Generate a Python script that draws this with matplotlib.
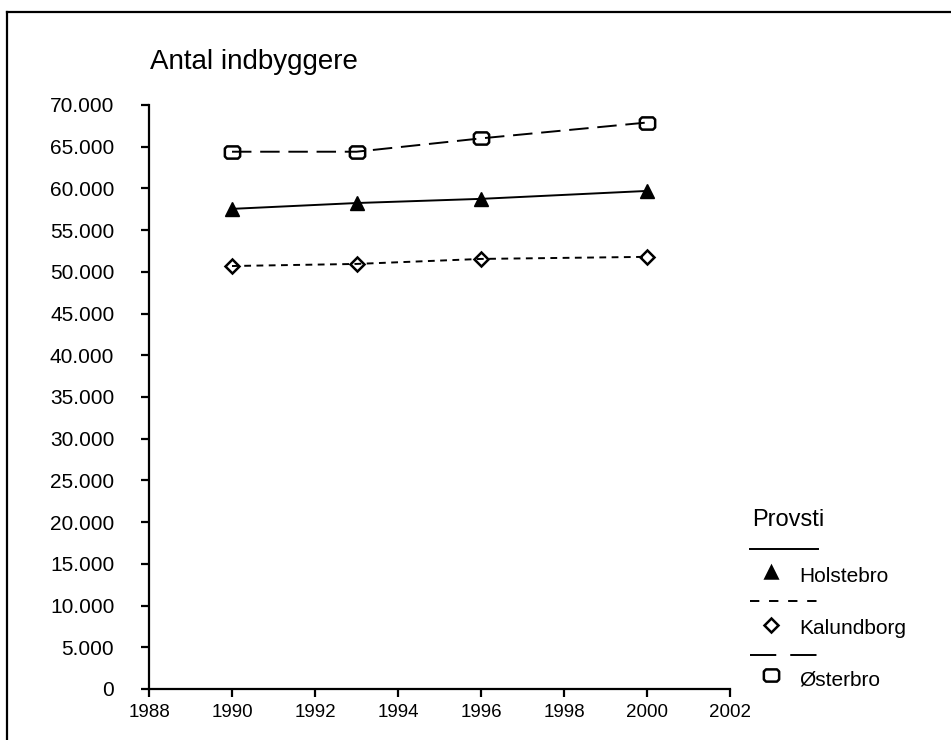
import matplotlib
matplotlib.use("Agg")
import matplotlib.pyplot as plt
from matplotlib import font_manager
from matplotlib.lines import Line2D
from matplotlib.path import Path
from matplotlib.ticker import FuncFormatter

plt.rcParams['font.family'] = ['Liberation Sans', 'DejaVu Sans']
names = {f.name for f in font_manager.fontManager.ttflist}
narrow = 'Liberation Sans Narrow' in names

years = [1990, 1993, 1996, 2000]
holstebro = [57550, 58250, 58750, 59700]
kalundborg = [50700, 50950, 51550, 51800]
osterbro = [64400, 64400, 66000, 67900]
series_names = ["Holstebro", "Kalundborg", "Østerbro"]
title = "Antal indbyggere"
legend_title = "Provsti"

W, H = 951, 740
fig = plt.figure(figsize=(W / 100, H / 100), dpi=100)

# rounded, slightly wide square marker
c = 0.28
rr = Path([(-1 + c, -0.8), (1 - c, -0.8), (1, -0.8 + c), (1, 0.8 - c), (1 - c, 0.8),
           (-1 + c, 0.8), (-1, 0.8 - c), (-1, -0.8 + c), (-1 + c, -0.8)],
          [Path.MOVETO] + [Path.LINETO] * 7 + [Path.CLOSEPOLY])

# outer border (top and left only visible)
fig.add_artist(Line2D([7 / W, 7 / W], [0, 1 - 12 / H], color='black', lw=1.6, transform=fig.transFigure))
fig.add_artist(Line2D([7 / W, 1], [1 - 12 / H, 1 - 12 / H], color='black', lw=1.6, transform=fig.transFigure))

x0, x1, ytop, ybot = 149, 730, 105, 689
ax = fig.add_axes([x0 / W, 1 - ybot / H, (x1 - x0) / W, (ybot - ytop) / H])

lw = 1.4
mew = 1.8
ax.plot(years, holstebro, color='black', lw=lw, marker='^', markersize=9.5,
        markerfacecolor='black', markeredgecolor='black', clip_on=False)
ax.plot(years, kalundborg, color='black', lw=lw, dashes=(3.5, 2.8), marker='D', markersize=7,
        markerfacecolor='none', markeredgecolor='black', markeredgewidth=mew, clip_on=False)
ax.plot(years, osterbro, color='black', lw=lw, dashes=(10, 4.5), marker=rr, markersize=11,
        markerfacecolor='none', markeredgecolor='black', markeredgewidth=mew, clip_on=False)

ax.set_xlim(1988, 2002)
ax.set_ylim(0, 70000)
ax.set_xticks(range(1988, 2003, 2))
ax.set_yticks(range(0, 70001, 5000))
ax.yaxis.set_major_formatter(FuncFormatter(lambda v, p: f"{int(v):,}".replace(",", ".")))
for s in ['top', 'right']:
    ax.spines[s].set_visible(False)
for s in ['left', 'bottom']:
    ax.spines[s].set_linewidth(1.6)
ax.tick_params(axis='y', direction='out', length=6, width=1.6, labelsize=15, pad=19)
ax.tick_params(axis='x', direction='out', length=6, width=1.6, labelsize=13.5, pad=5)

if narrow:
    fig.text(150 / W, 1 - 62 / H, title, fontsize=24.5, va='center', ha='left',
             family=['Liberation Sans Narrow', 'DejaVu Sans'])
else:
    fig.text(150 / W, 1 - 62 / H, title, fontsize=20, va='center', ha='left')

# legend, Excel style
fig.text(752 / W, 1 - 520 / H, legend_title, fontsize=17, va='center', ha='left')
styles = [
    dict(dashes=None, marker='^', mfc='black', ms=9),
    dict(dashes=(4.8, 5.0), marker='D', mfc='none', ms=7),
    dict(dashes=(13.5, 7.2), marker=rr, mfc='none', ms=11),
]
line_y = [549, 601, 655]
mark_y = [572, 625, 675]
text_y = [577, 629, 680]
for name, st, yl, ym, yt in zip(series_names, styles, line_y, mark_y, text_y):
    kw = {'dashes': st['dashes']} if st['dashes'] else {'ls': '-'}
    fig.add_artist(Line2D([750 / W, 818 / W], [1 - yl / H, 1 - yl / H], color='black', lw=lw,
                          transform=fig.transFigure, **kw))
    fig.add_artist(Line2D([771 / W], [1 - ym / H], marker=st['marker'], ms=st['ms'], mfc=st['mfc'],
                          mec='black', mew=mew, ls='none', transform=fig.transFigure))
    fig.text(799 / W, 1 - yt / H, name, fontsize=15, va='center', ha='left')

fig.savefig("out.png", dpi=100)
